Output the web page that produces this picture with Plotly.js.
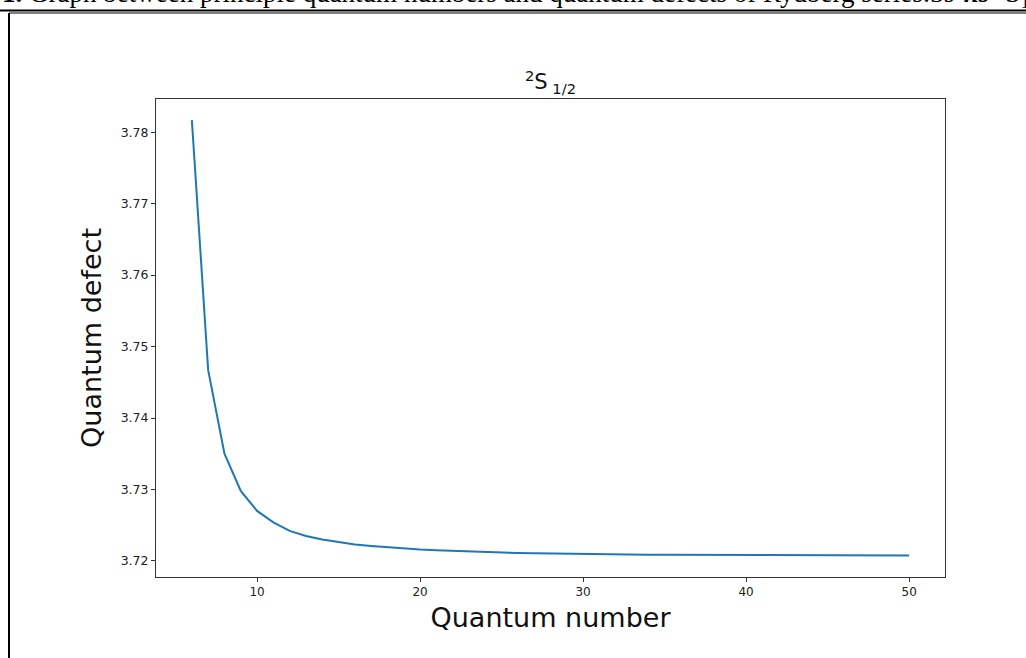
<!DOCTYPE html>
<html>
<head>
<meta charset="utf-8">
<script src="https://cdn.plot.ly/plotly-3.0.1.min.js"></script>
<style>html,body{margin:0;padding:0;background:#fff;}#chart{width:1026px;height:658px;}</style>
</head>
<body>
<div id="chart"></div>
<script>
const quantumNumbers = [6,7,8,9,10,11,12,13,14,15,16,17,18,19,20,21,22,23,24,25,26,27,28,29,30,31,32,33,34,35,36,37,38,39,40,41,42,43,44,45,46,47,48,49,50];
const quantumDefects = [3.7817,3.7467,3.7350,3.7298,3.7270,3.7254,3.7242,3.7235,3.7230,3.7226,3.7223,3.7221,3.7219,3.7217,3.7216,3.7215,3.7214,3.7213,3.7212,3.72115,3.7211,3.72106,3.72102,3.72099,3.72096,3.72094,3.72092,3.7209,3.72088,3.72087,3.72086,3.72085,3.72084,3.72083,3.72082,3.72081,3.7208,3.72079,3.72079,3.72078,3.72078,3.72077,3.72077,3.72076,3.72076];
const xTicks = [10,20,30,40,50];
const yTicks = [3.72,3.73,3.74,3.75,3.76,3.77,3.78];
const captionText = '<b>1.</b> Graph between principle quantum numbers and quantum defects of Rydberg series:3s<sup>2</sup><b><i>ns</i></b> <sup>2</sup>S<sub>1/2</sub>';

const L = 156, R = 945, T = 99, B = 577, W = 1026, H = 658;
const px = v => (v - L) / (R - L);
const py = v => (B - v) / (B - T);

const trace = {
  x: quantumNumbers, y: quantumDefects, type: 'scatter', mode: 'lines',
  line: {color: '#1f77b4', width: 2}, hoverinfo: 'skip'
};

const layout = {
  width: W, height: H,
  margin: {l: L, r: W - R, t: T, b: H - B, pad: 0},
  paper_bgcolor: '#fff', plot_bgcolor: '#fff',
  showlegend: false,
  font: {family: 'DejaVu Sans', color: '#222'},
  title: {text: '<sup>2</sup>S<sub> 1/2</sub>', font: {family: 'DejaVu Sans', size: 21, color: '#111'},
          x: 0.5, xref: 'paper', xanchor: 'center', y: 1 - 82/H, yanchor: 'middle'},
  xaxis: {
    range: [3.8, 52.2], tickvals: xTicks, ticktext: xTicks.map(String),
    showgrid: false, zeroline: false, showline: true, mirror: true, linecolor: '#333', linewidth: 1,
    ticks: 'outside', ticklen: 4, tickwidth: 1, tickcolor: '#333',
    tickfont: {family: 'DejaVu Sans', size: 12, color: '#222'},
    title: {text: 'Quantum number', font: {family: 'DejaVu Sans', size: 27, color: '#111'}, standoff: 9}
  },
  yaxis: {
    range: [3.71775, 3.78465], tickvals: yTicks, ticktext: yTicks.map(v => v.toFixed(2)),
    showgrid: false, zeroline: false, showline: true, mirror: true, linecolor: '#333', linewidth: 1,
    ticks: 'outside', ticklen: 4, tickwidth: 1, tickcolor: '#333',
    tickfont: {family: 'DejaVu Sans', size: 12.5, color: '#222'},
    title: {text: 'Quantum defect', font: {family: 'DejaVu Sans', size: 27, color: '#111'}, standoff: 11}
  },
  shapes: [
    {type: 'line', xref: 'paper', yref: 'paper', x0: px(0), x1: px(W), y0: py(10.5), y1: py(10.5), line: {color: '#000', width: 2}},
    {type: 'line', xref: 'paper', yref: 'paper', x0: px(9), x1: px(W), y0: py(13), y1: py(13), line: {color: '#000', width: 1}},
    {type: 'line', xref: 'paper', yref: 'paper', x0: px(9), x1: px(9), y0: py(13), y1: py(H + 5), line: {color: '#000', width: 2}}
  ],
  annotations: [
    {text: captionText, xref: 'paper', yref: 'paper', x: px(0), y: py(14), xanchor: 'left', yanchor: 'bottom',
     showarrow: false, font: {family: 'Liberation Serif', size: 27, color: '#000'}}
  ]
};

Plotly.newPlot('chart', [trace], layout, {displayModeBar: false, staticPlot: true});
</script>
</body>
</html>
